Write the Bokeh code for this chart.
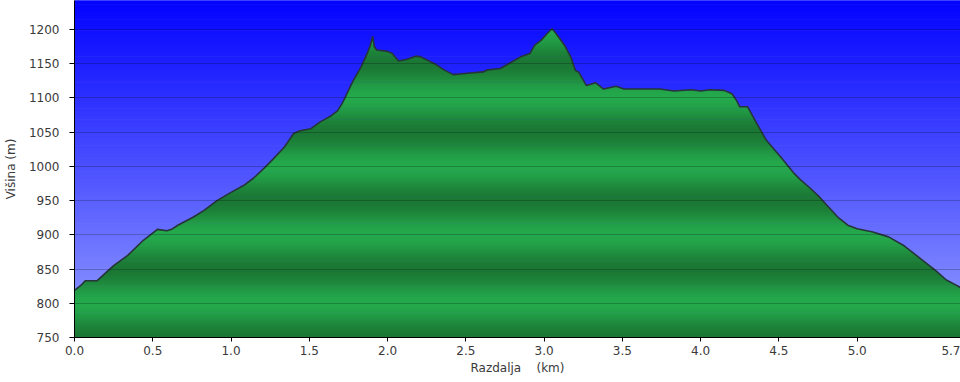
import numpy as np
from bokeh.plotting import figure
from bokeh.models import Range1d, FixedTicker, PrintfTickFormatter
from bokeh.embed import file_html
from bokeh.resources import INLINE

# ---- data (distance in km, elevation in m) ----
dist_km = [0.00, 0.04, 0.07, 0.145, 0.25, 0.34, 0.44, 0.53, 0.59, 0.62, 0.66, 0.76, 0.83, 0.91, 1.00,
           1.08, 1.145, 1.21, 1.27, 1.34, 1.40, 1.44, 1.51, 1.57, 1.64,
           1.68, 1.71, 1.73, 1.75, 1.78, 1.83, 1.87, 1.89, 1.905, 1.915,
           1.93, 2.00, 2.03, 2.07, 2.12, 2.18, 2.21, 2.30, 2.36, 2.42,
           2.51, 2.61, 2.64, 2.72, 2.79, 2.85, 2.91, 2.94, 2.98, 3.02,
           3.05, 3.07, 3.13, 3.17, 3.20, 3.22, 3.27, 3.33, 3.38, 3.46,
           3.51, 3.62, 3.74, 3.83, 3.94, 4.00, 4.06, 4.15, 4.20, 4.23,
           4.25, 4.30, 4.36, 4.42, 4.51, 4.60, 4.64, 4.70, 4.76, 4.82,
           4.88, 4.94, 5.00, 5.10, 5.20, 5.30, 5.40, 5.50, 5.57, 5.62,
           5.66, 5.70]
elev_m = [819, 826, 833, 833, 855, 870, 892, 908, 906, 908, 914, 926, 936, 950, 962,
          972, 983, 997, 1011, 1028, 1048, 1052, 1055, 1065, 1074,
          1081, 1092, 1101, 1111, 1125, 1145, 1165, 1177, 1190, 1175,
          1170, 1168, 1165, 1154, 1156, 1161, 1160, 1150, 1141, 1134,
          1136, 1138, 1141, 1143, 1152, 1160, 1165, 1177, 1184, 1194,
          1201, 1196, 1177, 1160, 1140, 1138, 1118, 1122, 1113, 1117,
          1113, 1113, 1113, 1110, 1112, 1110, 1112, 1111, 1106, 1096,
          1087, 1087, 1062, 1038, 1014, 989, 980, 968, 955, 940,
          925, 914, 909, 904, 897, 884, 866, 848, 834, 828,
          823, 820]

x_ticks = [0.0, 0.5, 1.0, 1.5, 2.0, 2.5, 3.0, 3.5, 4.0, 4.5, 5.0]
y_ticks = [750, 800, 850, 900, 950, 1000, 1050, 1100, 1150, 1200, 1250]

X_START, X_END = 0.0, 5.66
Y_START, Y_END = 750.0, 1242.3

FONT = "DejaVu Sans"
TXT = "#3a3a3a"

p = figure(width=960, height=382, output_backend="svg", toolbar_location=None,
           x_range=Range1d(X_START, X_END), y_range=Range1d(Y_START, Y_END),
           min_border_left=74, min_border_right=0, min_border_top=0, min_border_bottom=45)
p.outline_line_color = None
p.border_fill_color = "white"
p.background_fill_color = "#96a0ff"

# ---- sky gradient (full-width bands) ----
sky_top = np.array([0, 0, 255.0])
sky_bot = np.array([150, 160, 255.0])
sb = np.arange(Y_START, Y_END, 2.0)
st = sb + 3.0
tt = np.clip((sb + 1 - 750) / 500.0, 0, 1)
sky_cols = ["#%02x%02x%02x" % tuple(int(round(v)) for v in (sky_bot + (sky_top - sky_bot) * t)) for t in tt]
p.quad(left=X_START, right=X_END, bottom=sb, top=st, fill_color=sky_cols, line_color=None)

# ---- densify profile at every metre crossing so band clipping is exact ----
d = np.array(dist_km, float)
e = np.array(elev_m, float)
levels = np.arange(740.0, 1250.0, 1.0)
xd, ed = [d[0]], [e[0]]
for i in range(len(d) - 1):
    xa, ea, xb, eb = d[i], e[i], d[i + 1], e[i + 1]
    lo, hi = min(ea, eb), max(ea, eb)
    lv = levels[(levels > lo) & (levels < hi)]
    if ea > eb:
        lv = lv[::-1]
    if len(lv):
        t = (lv - ea) / (eb - ea)
        xd.extend(list(xa + t * (xb - xa)))
        ed.extend(list(lv))
    xd.append(xb)
    ed.append(eb)
xd = np.array(xd)
ed = np.array(ed)

# ---- green striped fill ----
g_light = np.array([36, 168, 76.0])
g_dark = np.array([27, 120, 52.0])
band_xs, band_ys, band_cols = [], [], []
for y0 in np.arange(Y_START, 1204.0, 2.0):
    idx = np.where(ed > y0)[0]
    if len(idx) == 0:
        continue
    i0 = max(idx[0] - 1, 0)
    i1 = min(idx[-1] + 1, len(ed) - 1)
    xs = xd[i0:i1 + 1]
    top = np.clip(ed[i0:i1 + 1], y0, y0 + 3.0)
    band_xs.append(np.concatenate([xs, xs[::-1]]))
    band_ys.append(np.concatenate([top, np.full(len(xs), y0)]))
    ph = ((y0 + 1 - 750) % 100) / 100.0
    lt = 0.5 - 0.5 * np.cos(2 * np.pi * ph)
    c = g_dark + (g_light - g_dark) * lt
    band_cols.append("#%02x%02x%02x" % tuple(int(round(v)) for v in c))
p.patches(xs=band_xs, ys=band_ys, fill_color=band_cols, line_color=None)

# ---- outline of the profile ----
p.line(dist_km, elev_m, line_color="#26353a", line_width=1.6)

# ---- grid ----
p.xgrid.visible = False
p.ygrid.ticker = FixedTicker(ticks=y_ticks)
p.ygrid.grid_line_color = "black"
p.ygrid.grid_line_alpha = 0.22
p.ygrid.grid_line_width = 1
p.ygrid.level = "overlay"

# ---- axes ----
# last tick = total distance at the right end of the range (label kept inside the window)
p.xaxis.ticker = FixedTicker(ticks=x_ticks + [X_END])
p.xaxis.formatter = PrintfTickFormatter(format="%.1f")
p.yaxis.ticker = FixedTicker(ticks=y_ticks)
for ax in (p.xaxis[0], p.yaxis[0]):
    ax.axis_line_color = "black"
    ax.major_tick_line_color = "black"
    ax.minor_tick_line_color = None
    ax.major_tick_in = 0
    ax.major_label_text_font = FONT
    ax.major_label_text_font_size = "12px"
    ax.major_label_text_color = TXT
    ax.axis_label_text_font = FONT
    ax.axis_label_text_font_size = "12px"
    ax.axis_label_text_font_style = "normal"
    ax.axis_label_text_color = TXT
p.xaxis.major_tick_out = 4
p.yaxis.major_tick_out = 5
p.xaxis.major_label_standoff = 4
p.yaxis.major_label_standoff = 10
p.xaxis.axis_label = "Razdalja\u00a0\u00a0\u00a0\u00a0(km)"
p.yaxis.axis_label = "Višina (m)"
p.xaxis.axis_label_standoff = 3
p.yaxis.axis_label_standoff = 8

open("out.html", "w").write(file_html(p, INLINE))
